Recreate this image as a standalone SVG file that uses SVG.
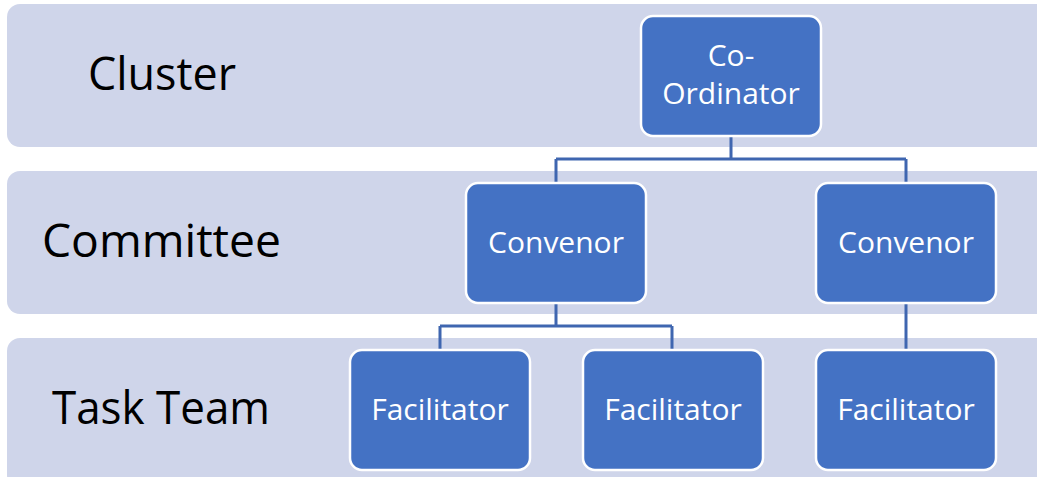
<svg xmlns="http://www.w3.org/2000/svg" width="1037" height="477" viewBox="0 0 1037 477">
<style>
.band{fill:#CFD5EA}
.lbl{font-family:"Open Sans","Liberation Sans",sans-serif;font-size:45px;fill:#000}
.box{fill:#4472C4;stroke:#fff;stroke-width:2.5}
.t{font-family:"Open Sans","Liberation Sans",sans-serif;font-size:30px;fill:#fff;text-anchor:middle}
.con{fill:none;stroke:#3F66B0;stroke-width:3}
</style>
<rect width="1037" height="477" fill="#fff"/>
<g id="bands">
<rect class="band" x="7" y="4" width="1050" height="143" rx="13"/>
<rect class="band" x="7" y="171" width="1050" height="143" rx="13"/>
<rect class="band" x="7" y="338" width="1050" height="150" rx="13"/>
<text class="lbl" x="88" y="90" textLength="148" lengthAdjust="spacingAndGlyphs">Cluster</text>
<text class="lbl" x="42" y="257" textLength="239" lengthAdjust="spacingAndGlyphs">Committee</text>
<text class="lbl" x="52" y="424" textLength="218" lengthAdjust="spacingAndGlyphs">Task Team</text>
</g>
<g id="connectors">
<path class="con" d="M731 136V159M556 159H906M556 159V183M906 159V183"/>
<path class="con" d="M556 303V326M440 326H672M440 326V350M672 326V350"/>
<path class="con" d="M906 303V350"/>
</g>
<g id="coordinator">
<rect class="box" x="641" y="16" width="180" height="120" rx="12"/>
<text class="t" x="731" y="66">Co-</text>
<text class="t" x="731" y="104">Ordinator</text>
</g>
<g id="convenor1">
<rect class="box" x="466" y="183" width="180" height="120" rx="12"/>
<text class="t" x="556" y="253">Convenor</text>
</g>
<g id="convenor2">
<rect class="box" x="816" y="183" width="180" height="120" rx="12"/>
<text class="t" x="906" y="253">Convenor</text>
</g>
<g id="facilitator1">
<rect class="box" x="350" y="350" width="180" height="120" rx="12"/>
<text class="t" x="440" y="420">Facilitator</text>
</g>
<g id="facilitator2">
<rect class="box" x="583" y="350" width="180" height="120" rx="12"/>
<text class="t" x="673" y="420">Facilitator</text>
</g>
<g id="facilitator3">
<rect class="box" x="816" y="350" width="180" height="120" rx="12"/>
<text class="t" x="906" y="420">Facilitator</text>
</g>
</svg>
